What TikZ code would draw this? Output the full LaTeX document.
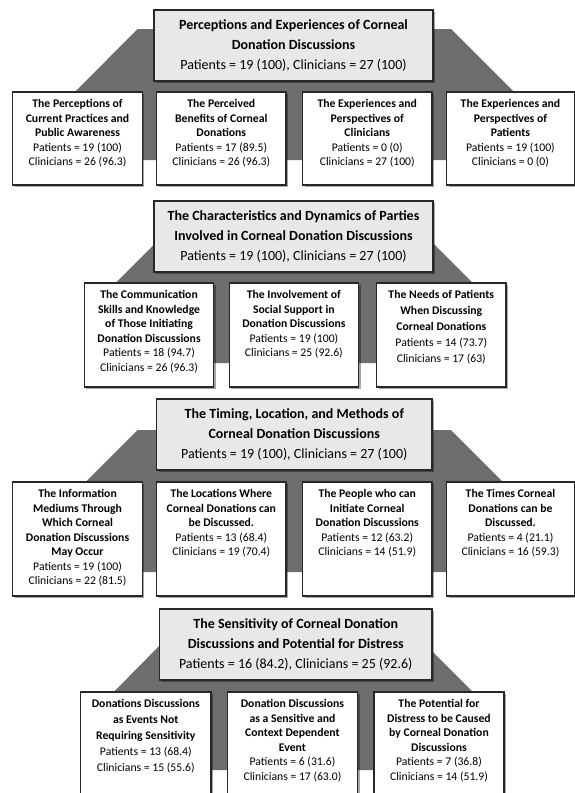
\documentclass[tikz,border=0pt]{standalone}
\usepackage{fontspec}
\setmainfont{Carlito}
\usetikzlibrary{shadows}
\definecolor{trapgray}{RGB}{110,110,110}
\definecolor{hdfill}{RGB}{232,232,232}
\definecolor{edgegray}{RGB}{40,40,40}
\tikzset{
  myshadow/.style={drop shadow={shadow xshift=2pt, shadow yshift=-2pt, opacity=0.35, fill=black}},
  hdbox/.style={draw=edgegray, line width=1.3pt, fill=hdfill, inner sep=0pt, align=center,
    font=\fontsize{14}{20}\selectfont, myshadow},
  chbox/.style={draw=edgegray, line width=1.3pt, fill=white, inner sep=0pt, myshadow},
  ctext/.style={inner sep=0pt, align=center, font=\fontsize{11.7}{14.5}\selectfont, anchor=north},
  trapshape/.style={fill=trapgray, draw=none}
}
\newcommand\bx[7]{\node[#6, minimum width={#4-#2}, minimum height={#5-#3}] (#1) at ({(#2+#4)/2},{(#3+#5)/2}) {#7};}
\newcommand\tx[2]{\node[ctext] (t#1) at ([yshift=-8pt]#1.north) {#2};}
\begin{document}
\begin{tikzpicture}[x=1pt,y=-1pt]
\useasboundingbox (0,0) rectangle (575,793);
\clip (0,0) rectangle (575,793);
% ---------- Section 1 ----------
\fill[trapshape] (137.5,29) -- (451,29) -- (514,92) -- (514,160) -- (75,160) -- (75,92) -- cycle;
\bx{h1}{154}{10}{433}{81}{hdbox}{\textbf{Perceptions and Experiences of Corneal}\\\textbf{Donation Discussions}\\Patients = 19 (100), Clinicians = 27 (100)}
\bx{a1}{12.8}{92}{142.3}{185}{chbox}{}
\bx{a2}{156.6}{92}{286}{185}{chbox}{}
\bx{a3}{302.5}{92}{432}{185}{chbox}{}
\bx{a4}{446.6}{92}{574.3}{185}{chbox}{}
\tx{a1}{\textbf{The Perceptions of}\\\textbf{Current Practices and}\\\textbf{Public Awareness}\\Patients = 19 (100)\\Clinicians = 26 (96.3)}
\tx{a2}{\textbf{The Perceived}\\\textbf{Benefits of Corneal}\\\textbf{Donations}\\Patients = 17 (89.5)\\Clinicians = 26 (96.3)}
\tx{a3}{\textbf{The Experiences and}\\\textbf{Perspectives of}\\\textbf{Clinicians}\\Patients = 0 (0)\\Clinicians = 27 (100)}
\tx{a4}{\textbf{The Experiences and}\\\textbf{Perspectives of}\\\textbf{Patients}\\Patients = 19 (100)\\Clinicians = 0 (0)}
% ---------- Section 2 ----------
\fill[trapshape] (158.5,240) -- (430,240) -- (473,283) -- (473,363) -- (115.5,363) -- (115.5,283) -- cycle;
\bx{h2}{154}{201}{433}{272}{hdbox}{\textbf{The Characteristics and Dynamics of Parties}\\\textbf{Involved in Corneal Donation Discussions}\\Patients = 19 (100), Clinicians = 27 (100)}
\bx{b1}{84.3}{283}{213.8}{387}{chbox}{}
\bx{b2}{229.2}{283}{358.6}{387}{chbox}{}
\bx{b3}{376.6}{283}{506}{387}{chbox}{}
\tx{b1}{\textbf{The Communication}\\\textbf{Skills and Knowledge}\\\textbf{of Those Initiating}\\\textbf{Donation Discussions}\\Patients = 18 (94.7)\\Clinicians = 26 (96.3)}
\tx{b2}{\textbf{The Involvement of}\\\textbf{Social Support in}\\\textbf{Donation Discussions}\\Patients = 19 (100)\\Clinicians = 25 (92.6)}
\tx{b3}{\textbf{The Needs of Patients}\\[1.5pt]\textbf{When Discussing}\\[1.5pt]\textbf{Corneal Donations}\\[1.5pt]Patients = 14 (73.7)\\[1.5pt]Clinicians = 17 (63)}
% ---------- Section 3 ----------
\fill[trapshape] (137.5,430) -- (451,430) -- (503,482) -- (503,572) -- (85.5,572) -- (85.5,482) -- cycle;
\bx{h3}{156.6}{399}{432}{470}{hdbox}{\textbf{The Timing, Location, and Methods of}\\\textbf{Corneal Donation Discussions}\\Patients = 19 (100), Clinicians = 27 (100)}
\bx{c1}{12.8}{482}{142.3}{596}{chbox}{}
\bx{c2}{156.6}{482}{286}{596}{chbox}{}
\bx{c3}{302.5}{482}{432}{596}{chbox}{}
\bx{c4}{446.6}{482}{574.3}{596}{chbox}{}
\tx{c1}{\textbf{The Information}\\\textbf{Mediums Through}\\\textbf{Which Corneal}\\\textbf{Donation Discussions}\\\textbf{May Occur}\\Patients = 19 (100)\\Clinicians = 22 (81.5)}
\tx{c2}{\textbf{The Locations Where}\\\textbf{Corneal Donations can}\\\textbf{be Discussed.}\\Patients = 13 (68.4)\\Clinicians = 19 (70.4)}
\tx{c3}{\textbf{The People who can}\\\textbf{Initiate Corneal}\\\textbf{Donation Discussions}\\Patients = 12 (63.2)\\Clinicians = 14 (51.9)}
\tx{c4}{\textbf{The Times Corneal}\\\textbf{Donations can be}\\\textbf{Discussed.}\\Patients = 4 (21.1)\\Clinicians = 16 (59.3)}
% ---------- Section 4 ----------
\fill[trapshape] (165,640) -- (421,640) -- (473,692) -- (473,770) -- (113.7,770) -- (113.7,692) -- cycle;
\bx{h4}{159.5}{609}{432}{680}{hdbox}{\textbf{The Sensitivity of Corneal Donation}\\\textbf{Discussions and Potential for Distress}\\Patients = 16 (84.2), Clinicians = 25 (92.6)}
\bx{d1}{80.7}{692}{210.9}{805}{chbox}{}
\bx{d2}{227.4}{692}{357.5}{805}{chbox}{}
\bx{d3}{374}{692}{504}{805}{chbox}{}
\tx{d1}{\textbf{Donations Discussions}\\[1.5pt]\textbf{as Events Not}\\[1.5pt]\textbf{Requiring Sensitivity}\\[1.5pt]Patients = 13 (68.4)\\[1.5pt]Clinicians = 15 (55.6)}
\tx{d2}{\textbf{Donation Discussions}\\\textbf{as a Sensitive and}\\\textbf{Context Dependent}\\\textbf{Event}\\Patients = 6 (31.6)\\Clinicians = 17 (63.0)}
\tx{d3}{\textbf{The Potential for}\\\textbf{Distress to be Caused}\\\textbf{by Corneal Donation}\\\textbf{Discussions}\\Patients = 7 (36.8)\\Clinicians = 14 (51.9)}
\end{tikzpicture}
\end{document}
